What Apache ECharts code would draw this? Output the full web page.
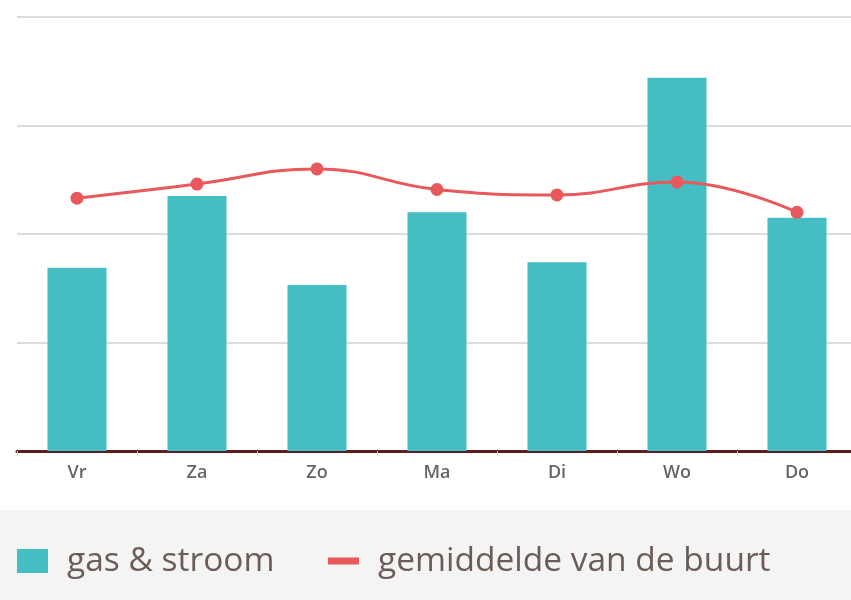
<!DOCTYPE html>
<html>
<head>
<meta charset="utf-8">
<script src="https://cdn.jsdelivr.net/npm/echarts@6/dist/echarts.min.js"></script>
<style>
  html, body { margin: 0; padding: 0; background: #fff; overflow: hidden; }
  #chart { width: 857px; height: 600px; }
</style>
</head>
<body>
<div id="chart"></div>
<script>
const days = ['Vr', 'Za', 'Zo', 'Ma', 'Di', 'Wo', 'Do'];
const gasStroom = [169, 235, 153, 220, 174, 344, 215];
const buurtGemiddelde = [233, 246, 260, 241, 236, 248, 220];
const yTicks = [0, 100, 200, 300, 400];

const chart = echarts.init(document.getElementById('chart'));

// legend text style shared by both legends
const legendText = {
  color: '#6b5c58',
  fontFamily: 'Open Sans',
  fontSize: 33.5,
  padding: [0, 0, 0, 14],
};

const option = {
  backgroundColor: '#fff',
  animation: false,
  graphic: [{
    type: 'rect',
    left: 0,
    top: 510,
    shape: { width: 857, height: 90 },
    style: { fill: '#f4f4f4' },
    z: -1,
  }],
  legend: [{
    data: ['gas & stroom'],
    left: 12,
    top: 539,
    icon: 'rect',
    itemWidth: 31,
    itemHeight: 24,
    textStyle: legendText,
  }, {
    data: ['gemiddelde van de buurt'],
    left: 323,
    top: 539,
    icon: 'rect',
    itemWidth: 31,
    itemHeight: 7,
    textStyle: legendText,
  }],
  grid: {
    left: 17,
    right: 0,
    top: 17,
    bottom: 149,
    containLabel: false,
  },
  xAxis: {
    type: 'category',
    data: days,
    boundaryGap: true,
    axisLine: {
      lineStyle: { color: '#5a1e1e', width: 3 },
    },
    axisTick: {
      show: true,
      length: 5,
      lineStyle: { color: '#cccccc', width: 1 },
    },
    axisLabel: {
      color: '#666',
      fontFamily: 'Open Sans',
      fontWeight: 600,
      fontSize: 18,
      margin: 13,
    },
  },
  yAxis: {
    type: 'value',
    min: yTicks[0],
    max: yTicks[yTicks.length - 1],
    interval: 100,
    axisLabel: { show: false },
    axisLine: { show: false },
    axisTick: { show: false },
    splitLine: {
      lineStyle: { color: '#dcdcdc', width: 2 },
    },
  },
  series: [{
    name: 'gas & stroom',
    type: 'bar',
    data: gasStroom,
    barWidth: 59,
    itemStyle: { color: '#44bec3' },
  }, {
    name: 'gemiddelde van de buurt',
    type: 'line',
    data: buurtGemiddelde,
    smooth: 0.45,
    symbol: 'circle',
    symbolSize: 13,
    lineStyle: { color: '#e8585c', width: 3 },
    itemStyle: { color: '#e8585c' },
    z: 3,
  }],
};

chart.setOption(option);
</script>
</body>
</html>
